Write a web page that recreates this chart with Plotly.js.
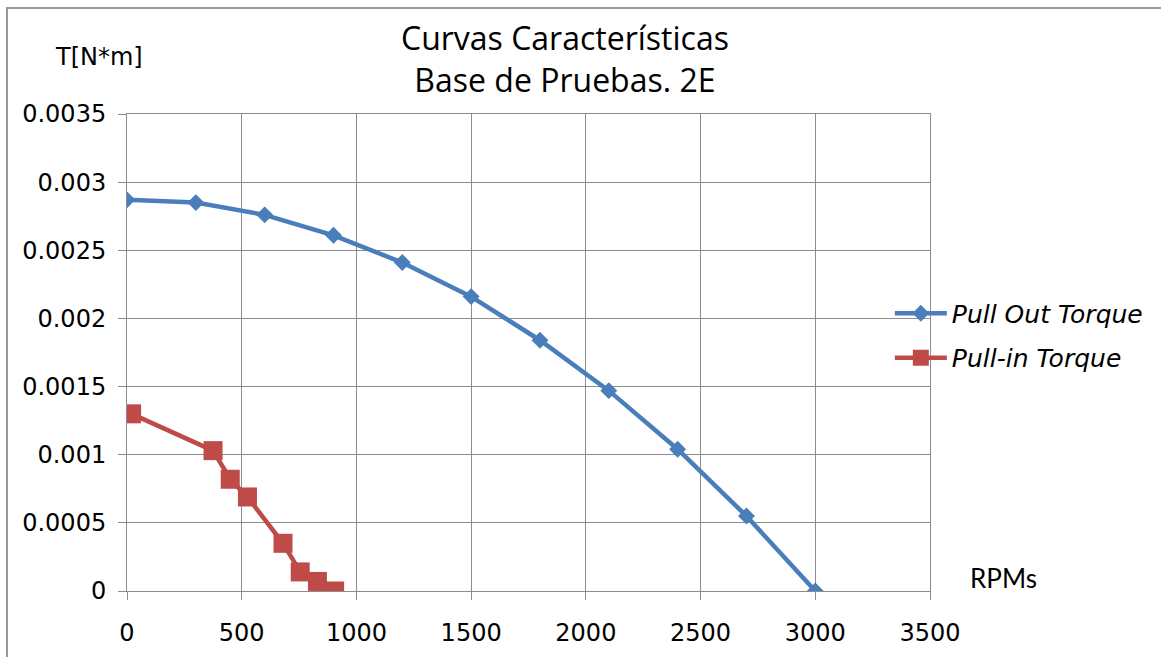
<!DOCTYPE html>
<html>
<head>
<meta charset="utf-8">
<script src="https://cdn.plot.ly/plotly-3.0.1.min.js"></script>
<style>
  html, body { margin: 0; padding: 0; background: #fff; }
  #chart { width: 1161px; height: 657px; }
  #frame { position: absolute; left: 6px; top: 7px; width: 1155px; height: 650px;
           border-left: 2px solid #9a9a9a; border-top: 2px solid #9a9a9a;
           pointer-events: none; z-index: 10; box-sizing: border-box; }
</style>
</head>
<body>
<div id="frame"></div>
<div id="chart"></div>
<script>
const pullOutRpm = [0, 300, 600, 900, 1200, 1500, 1800, 2100, 2400, 2700, 3000];
const pullOutTorque = [0.00287, 0.00285, 0.00276, 0.00261, 0.00241, 0.00216, 0.00184, 0.00147, 0.00104, 0.00055, 0];
const pullInRpm = [20, 375, 450, 525, 680, 755, 830, 905];
const pullInTorque = [0.0013, 0.00103, 0.00082, 0.00069, 0.00035, 0.00014, 0.00007, 0];
const xTicks = [0, 500, 1000, 1500, 2000, 2500, 3000, 3500];
const yTicks = [0, 0.0005, 0.001, 0.0015, 0.002, 0.0025, 0.003, 0.0035];
const yTickText = ['0', '0.0005', '0.001', '0.0015', '0.002', '0.0025', '0.003', '0.0035'];

const tickFont = {family: 'DejaVu Sans', size: 24, color: '#000'};

const traces = [
  {
    x: pullOutRpm, y: pullOutTorque, name: 'Pull Out Torque', type: 'scatter', mode: 'lines+markers',
    legendgroup: 'a',
    line: {color: '#4a7ebb', width: 4.5},
    marker: {symbol: 'diamond', size: 13, color: '#4a7ebb'}
  },
  {
    x: pullInRpm, y: pullInTorque, name: 'Pull-in Torque', type: 'scatter', mode: 'lines+markers',
    legendgroup: 'b',
    line: {color: '#be4b48', width: 4.5},
    marker: {symbol: 'square', size: 19, color: '#be4b48'}
  }
];

const layout = {
  width: 1161, height: 657,
  margin: {l: 127, r: 231, t: 114, b: 66},
  paper_bgcolor: '#fff', plot_bgcolor: '#fff',
  title: {
    text: 'Curvas Características<br>Base de Pruebas. 2E',
    font: {family: 'Open Sans', size: 32, color: '#000'},
    x: 0.4866, xanchor: 'center', xref: 'container',
    y: 1 - 50/657, yanchor: 'top', yref: 'container'
  },
  xaxis: {
    range: [0, 3500], tickvals: xTicks, ticktext: xTicks.map(String),
    showgrid: true, gridcolor: '#8c8c8c', gridwidth: 1,
    showline: true, linecolor: '#8c8c8c', linewidth: 1, mirror: true,
    ticks: 'outside', ticklen: 8, tickcolor: '#8c8c8c', ticklabelstandoff: 12,
    zeroline: false, tickfont: tickFont
  },
  yaxis: {
    range: [0, 0.0035], tickvals: yTicks, ticktext: yTickText,
    showgrid: true, gridcolor: '#8c8c8c', gridwidth: 1,
    showline: true, linecolor: '#8c8c8c', linewidth: 1, mirror: true,
    ticks: 'outside', ticklen: 8, tickcolor: '#8c8c8c', ticklabelstandoff: 7,
    zeroline: false, tickfont: tickFont
  },
  showlegend: true,
  legend: {
    x: 0.95, xanchor: 'left', y: 0.63, yanchor: 'top', itemwidth: 52,
    font: {family: 'DejaVu Sans', size: 25, color: '#000', style: 'italic'},
    bgcolor: 'rgba(0,0,0,0)', traceorder: 'grouped', tracegroupgap: 9
  },
  annotations: [
    {text: 'T[N*m]', xref: 'paper', yref: 'paper', x: -0.035, y: 1.119, showarrow: false,
     xanchor: 'center', yanchor: 'middle', font: {family: 'DejaVu Sans', size: 24, color: '#000'}},
    {text: 'RPMs', xref: 'paper', yref: 'paper', x: 1.091, y: 0.027, showarrow: false,
     xanchor: 'center', yanchor: 'middle', font: {family: 'Lato', size: 26, color: '#000'}}
  ]
};

Plotly.newPlot('chart', traces, layout, {displayModeBar: false, staticPlot: true});
</script>
</body>
</html>
